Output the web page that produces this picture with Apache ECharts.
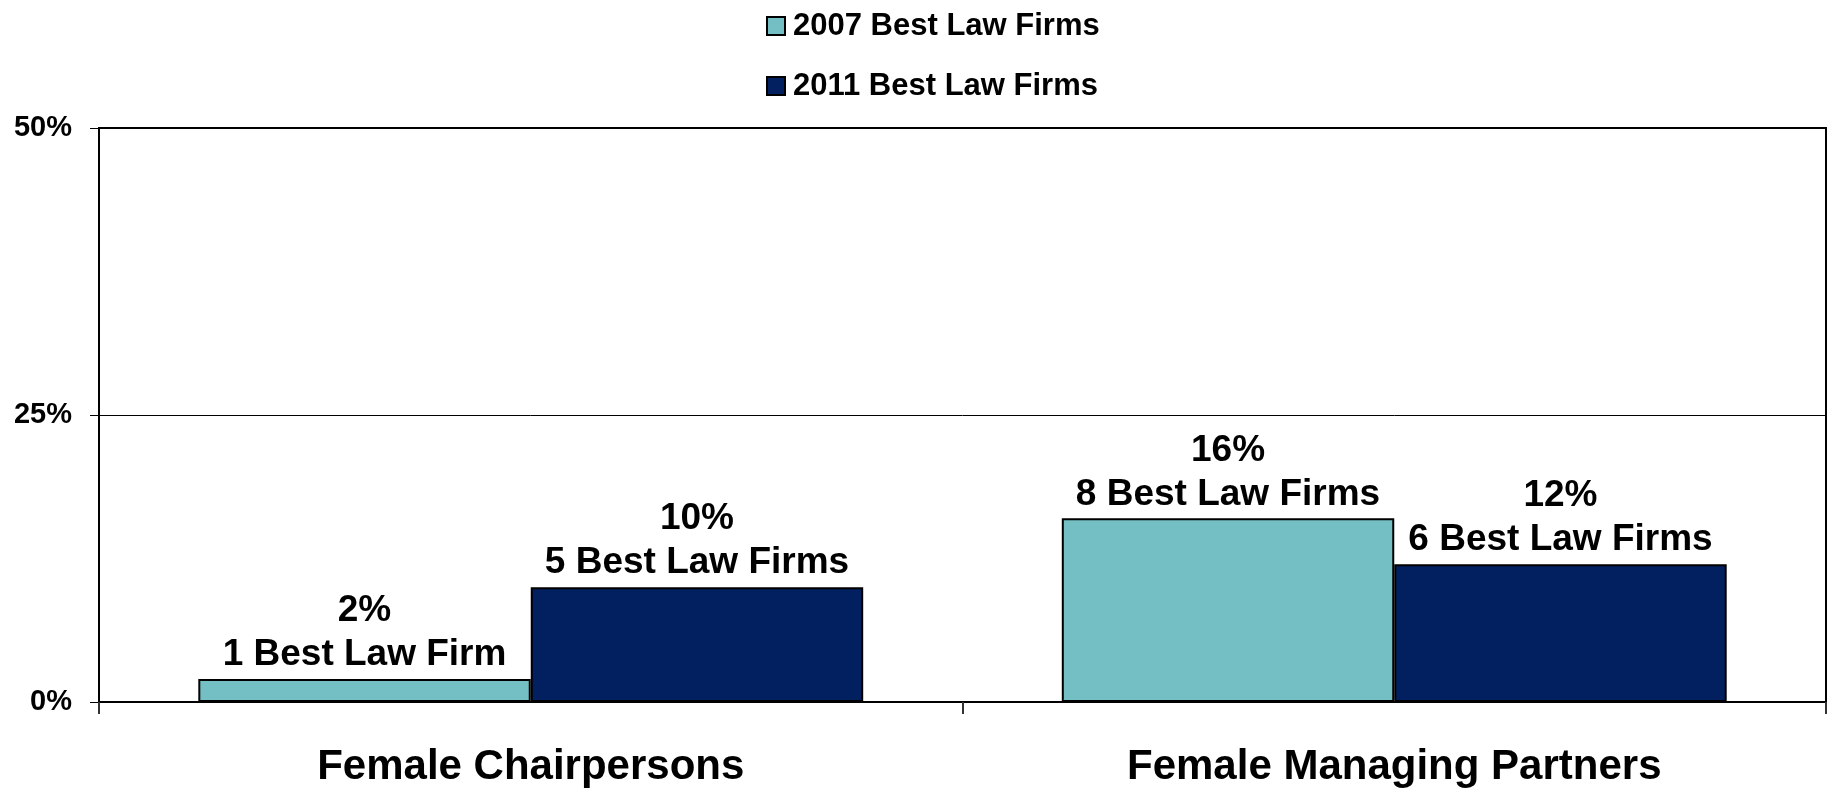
<!DOCTYPE html>
<html>
<head>
<meta charset="utf-8">
<script src="https://cdn.jsdelivr.net/npm/echarts@6/dist/echarts.min.js"></script>
<style>
  html, body { margin: 0; padding: 0; background: #fff; }
  #chart { width: 1831px; height: 788px; }
</style>
</head>
<body>
<div id="chart"></div>
<script>
const categories = ['Female Chairpersons', 'Female Managing Partners']
const seriesNames = ['2007 Best Law Firms', '2011 Best Law Firms']
const pct2007 = [2, 16]
const pct2011 = [10, 12]
const firms2007 = [1, 8]
const firms2011 = [5, 6]

const font = '"Liberation Sans", Arial, sans-serif'

function makeLabel(firms) {
    return {
        show: true,
        position: 'top',
        distance: 2,
        color: '#000',
        fontFamily: font,
        fontWeight: 'bold',
        fontSize: 37,
        lineHeight: 44,
        formatter: function (p) {
            let n = firms[p.dataIndex]
            return p.value + '%\n' + n + ' Best Law Firm' + (n === 1 ? '' : 's')
        }
    }
}

let chart = echarts.init(document.getElementById('chart'))
let option = {
    animation: false,
    legend: {
        orient: 'vertical',
        left: 761,
        top: 5,
        itemWidth: 18,
        itemHeight: 18,
        itemGap: 28,
        icon: 'rect',
        textStyle: {
            color: '#000',
            fontFamily: font,
            fontWeight: 'bold',
            fontSize: 31,
            lineHeight: 32,
            padding: [0, 0, 0, 3]
        },
        data: seriesNames
    },
    grid: {
        left: 99,
        right: 5,
        top: 128,
        bottom: 84,
        show: true,
        borderColor: '#000',
        borderWidth: 2
    },
    xAxis: {
        type: 'category',
        data: categories,
        axisLine: { lineStyle: { color: '#000', width: 2 } },
        // 刻度
        axisTick: { show: true, length: 12, lineStyle: { color: '#333', width: 2 } },
        axisLabel: {
            color: '#000',
            fontFamily: font,
            fontWeight: 'bold',
            fontSize: 42,
            margin: 44
        }
    },
    yAxis: {
        type: 'value',
        min: 0,
        max: 50,
        interval: 25,
        axisLine: { show: true, lineStyle: { color: '#000', width: 2 } },
        axisTick: { show: true, length: 9, lineStyle: { color: '#000', width: 1 } },
        splitLine: { lineStyle: { color: '#000', width: 1 } },
        axisLabel: {
            color: '#000',
            fontFamily: font,
            fontWeight: 'bold',
            fontSize: 29,
            margin: 27,
            formatter: '{value}%'
        }
    },
    series: [{
        name: seriesNames[0],
        type: 'bar',
        data: pct2007,
        barGap: '0%',
        barCategoryGap: '23%',
        itemStyle: { color: '#74BFC4', borderColor: '#000', borderWidth: 2 },
        label: makeLabel(firms2007)
    }, {
        name: seriesNames[1],
        type: 'bar',
        data: pct2011,
        barGap: '0%',
        barCategoryGap: '23%',
        itemStyle: { color: '#02205F', borderColor: '#000', borderWidth: 2 },
        label: makeLabel(firms2011)
    }]
}
chart.setOption(option)
</script>
</body>
</html>
